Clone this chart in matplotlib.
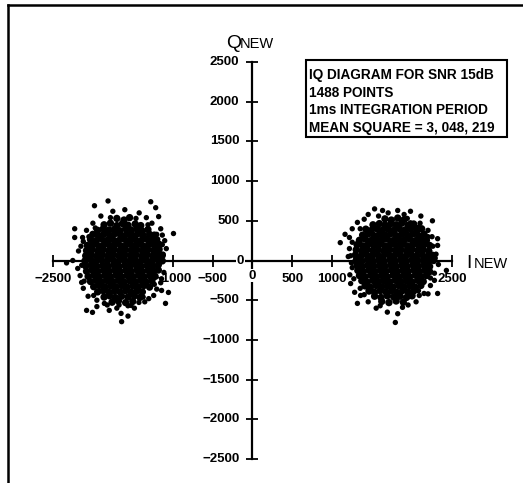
import matplotlib
matplotlib.use("Agg")
import matplotlib.pyplot as plt
from matplotlib.patches import Rectangle
from matplotlib.lines import Line2D

plt.rcParams['font.family'] = ['Liberation Sans', 'DejaVu Sans']

# ---------------- data ----------------
x_ticks = [-2500, -2000, -1500, -1000, -500, 500, 1000, 1500, 2000, 2500]
x_labels = [-2500, -1000, -500, 500, 1000, 2500]
y_ticks = [-2500, -2000, -1500, -1000, -500, 500, 1000, 1500, 2000, 2500]
y_labels = [2500, 2000, 1500, 1000, 500, -500, -1000, -1500, -2000, -2500]

info_lines = ["IQ DIAGRAM FOR SNR 15dB", "1488 POINTS",
              "1ms INTEGRATION PERIOD", "MEAN SQUARE = 3, 048, 219"]

left_core = [
    (-1700, 530), (-1610, 510), (-1540, 540),
    (-1860, 450), (-1780, 470), (-1700, 440), (-1630, 465), (-1560, 445), (-1470, 460), (-1400, 440),
    (-1940, 380), (-1870, 400), (-1800, 385), (-1730, 395), (-1660, 375), (-1590, 400), (-1520, 385),
    (-1450, 395), (-1380, 370), (-1310, 390),
    (-2000, 330), (-1930, 315), (-1860, 335), (-1790, 320), (-1720, 340), (-1650, 315), (-1580, 330),
    (-1510, 320), (-1440, 335), (-1370, 315), (-1290, 330), (-1230, 320),
    (-2030, 265), (-1960, 250), (-1890, 270), (-1820, 255), (-1750, 265), (-1680, 250), (-1610, 270),
    (-1540, 255), (-1470, 265), (-1400, 250), (-1330, 270), (-1260, 255), (-1200, 265),
    (-2070, 190), (-2000, 205), (-1930, 185), (-1860, 200), (-1790, 190), (-1720, 205), (-1650, 185),
    (-1580, 200), (-1510, 190), (-1440, 205), (-1370, 185), (-1300, 200), (-1230, 190), (-1170, 205),
    (-2080, 125), (-2010, 140), (-1940, 120), (-1870, 135), (-1800, 125), (-1730, 140), (-1660, 120),
    (-1590, 135), (-1520, 125), (-1450, 140), (-1380, 120), (-1310, 135), (-1240, 125), (-1170, 140),
    (-2090, 60), (-2020, 75), (-1950, 55), (-1880, 70), (-1810, 60), (-1740, 75), (-1670, 55),
    (-1600, 70), (-1530, 60), (-1460, 75), (-1390, 55), (-1320, 70), (-1250, 60), (-1180, 75), (-1130, 65),
    (-2100, -5), (-2030, 10), (-1960, -10), (-1890, 5), (-1820, -5), (-1750, 10), (-1680, -10),
    (-1610, 5), (-1540, -5), (-1470, 10), (-1400, -10), (-1330, 5), (-1260, -5), (-1190, 10), (-1130, -5),
    (-2090, -70), (-2020, -55), (-1950, -75), (-1880, -60), (-1810, -70), (-1740, -55), (-1670, -75),
    (-1600, -60), (-1530, -70), (-1460, -55), (-1390, -75), (-1320, -60), (-1250, -70), (-1180, -55),
    (-2080, -135), (-2010, -120), (-1940, -140), (-1870, -125), (-1800, -135), (-1730, -120), (-1660, -140),
    (-1590, -125), (-1520, -135), (-1450, -120), (-1380, -140), (-1310, -125), (-1240, -135), (-1180, -120),
    (-2060, -200), (-1990, -185), (-1920, -205), (-1850, -190), (-1780, -200), (-1710, -185), (-1640, -205),
    (-1570, -190), (-1500, -200), (-1430, -185), (-1360, -205), (-1290, -190), (-1220, -200),
    (-2030, -265), (-1960, -250), (-1890, -270), (-1820, -255), (-1750, -265), (-1680, -250), (-1610, -270),
    (-1540, -255), (-1470, -265), (-1400, -250), (-1330, -270), (-1260, -255),
    (-1990, -330), (-1920, -315), (-1850, -335), (-1780, -320), (-1710, -330), (-1640, -315), (-1570, -335),
    (-1500, -320), (-1430, -330), (-1360, -315), (-1290, -335),
    (-1940, -395), (-1870, -380), (-1800, -400), (-1730, -385), (-1660, -395), (-1590, -380), (-1520, -400),
    (-1450, -385), (-1380, -395),
    (-1860, -460), (-1790, -445), (-1720, -465), (-1640, -450), (-1560, -460), (-1480, -445), (-1410, -465),
    (-1760, -525), (-1680, -510), (-1590, -530), (-1500, -515),
]
left_fringe = [
    (-1810, 750), (-1980, 690), (-1275, 740), (-1213, 665), (-1176, 553), (-990, 340),
    (-2228, 400), (-2228, 290), (-2129, 290), (-2252, 0), (-2190, -100), (-2141, -276),
    (-2079, -628), (-2005, -653), (-1856, -540), (-1795, -628), (-1647, -666), (-1672, -560),
    (-1522, -565), (-1423, -528), (-1238, -440), (-1090, -540), (-1139, -377), (-1053, -402),
    (-2150, 180), (-2180, 120), (-2160, -190), (-2120, -350), (-2060, -450), (-1950, -500),
    (-1100, 250), (-1080, 150), (-1110, -150), (-1150, -280), (-1200, -360), (-1150, 400),
    (-1260, 470), (-1330, 540), (-1420, 600), (-1900, 560), (-2000, 470), (-2080, 380),
    (-1750, 620), (-1600, 640), (-1480, -600), (-1350, -520), (-1950, -580), (-1700, -600),
    (-1300, -480), (-2050, 300), (-1130, 320), (-1560, -700), (-1640, -770), (-2330, -30),
    (-2120, 240), (-2140, -60), (-2110, -260), (-1990, -440), (-1820, -560), (-1560, -570),
    (-1370, -460), (-1230, -300), (-1140, -230), (-1120, 80), (-1130, 200), (-1200, 330),
    (-1310, 450), (-1460, 530), (-1780, 540), (-1970, 410),
]

right_core = [
    (1660, 525), (1740, 510), (1820, 535), (1900, 515),
    (1510, 450), (1590, 465), (1660, 445), (1730, 460), (1800, 450), (1870, 470), (1950, 445), (2020, 460),
    (1420, 395), (1490, 380), (1560, 400), (1630, 385), (1700, 395), (1770, 380), (1840, 400), (1910, 385),
    (1980, 395), (2060, 380), (2120, 400),
    (1380, 320), (1450, 335), (1520, 315), (1590, 330), (1660, 320), (1730, 335), (1800, 315), (1870, 330),
    (1940, 320), (2010, 335), (2080, 315), (2150, 330),
    (1340, 255), (1410, 270), (1480, 250), (1550, 265), (1620, 255), (1690, 270), (1760, 250), (1830, 265),
    (1900, 255), (1970, 270), (2040, 250), (2110, 265), (2180, 255),
    (1310, 200), (1380, 185), (1450, 205), (1520, 190), (1590, 200), (1660, 185), (1730, 205), (1800, 190),
    (1870, 200), (1940, 185), (2010, 205), (2080, 190), (2150, 200), (2220, 190),
    (1300, 135), (1370, 120), (1440, 140), (1510, 125), (1580, 135), (1650, 120), (1720, 140), (1790, 125),
    (1860, 135), (1930, 120), (2000, 140), (2070, 125), (2140, 135), (2210, 120),
    (1290, 70), (1360, 55), (1430, 75), (1500, 60), (1570, 70), (1640, 55), (1710, 75), (1780, 60),
    (1850, 70), (1920, 55), (1990, 75), (2060, 60), (2130, 70), (2200, 55), (2260, 65),
    (1300, 5), (1370, -10), (1440, 10), (1510, -5), (1580, 5), (1650, -10), (1720, 10), (1790, -5),
    (1860, 5), (1930, -10), (2000, 10), (2070, -5), (2140, 5), (2210, -10), (2270, 0),
    (1310, -60), (1380, -75), (1450, -55), (1520, -70), (1590, -60), (1660, -75), (1730, -55), (1800, -70),
    (1870, -60), (1940, -75), (2010, -55), (2080, -70), (2150, -60), (2220, -75),
    (1320, -125), (1390, -140), (1460, -120), (1530, -135), (1600, -125), (1670, -140), (1740, -120),
    (1810, -135), (1880, -125), (1950, -140), (2020, -120), (2090, -135), (2160, -125), (2220, -140),
    (1340, -190), (1410, -205), (1480, -185), (1550, -200), (1620, -190), (1690, -205), (1760, -185),
    (1830, -200), (1900, -190), (1970, -205), (2040, -185), (2110, -200), (2180, -190),
    (1370, -255), (1440, -270), (1510, -250), (1580, -265), (1650, -255), (1720, -270), (1790, -250),
    (1860, -265), (1930, -255), (2000, -270), (2070, -250), (2140, -265),
    (1410, -320), (1480, -335), (1550, -315), (1620, -330), (1690, -320), (1760, -335), (1830, -315),
    (1900, -330), (1970, -320), (2040, -335), (2110, -315),
    (1460, -385), (1530, -400), (1600, -380), (1670, -395), (1740, -385), (1810, -400), (1880, -380),
    (1950, -395), (2020, -385),
    (1530, -450), (1610, -465), (1690, -445), (1770, -460), (1850, -450), (1930, -465), (2000, -445),
    (1620, -515), (1710, -530), (1800, -510), (1890, -525),
]
right_fringe = [
    (1630, 630), (1820, 630), (1530, 650), (1315, 480), (1250, 400), (1215, 290), (1100, 225),
    (1215, 150), (1230, 60), (1250, -90), (1230, -290), (1280, -400), (1355, -440), (1315, -540),
    (1690, -650), (1820, -670), (1790, -780), (1940, -465), (2090, -440), (2150, -415), (2230, -315),
    (2320, -415), (2280, -160), (2320, 190), (2320, 275), (2255, 500), (2040, 415), (1980, 475),
    (1940, 530), (1400, 520), (1450, 580), (1700, 600), (2100, 470), (2200, 380), (2250, 300),
    (2300, 80), (2330, -50), (2280, -250), (2200, -420), (1450, -520), (1550, -600), (1950, -560),
    (2050, -520), (1350, -350), (1220, -180), (1200, 50), (1160, 330), (2110, 560), (1980, 620),
    (2430, -125),
    (1250, 230), (1240, -30), (1270, -230), (1400, -430), (1600, -570), (1880, -590), (2080, -380),
    (2230, -220), (2290, 30), (2260, 180), (2200, 300), (2080, 420), (1900, 580), (1580, 560),
    (1350, 400),
]

# ---------------- figure ----------------
W, H = 523, 483
fig = plt.figure(figsize=(W / 100, H / 100), dpi=100)
ax = fig.add_axes([0, 0, 1, 1])
ax.set_xlim(-3164, 3390)
ax.set_ylim(-2802, 3281)

for s in ['top', 'right']:
    ax.spines[s].set_visible(False)
for s in ['left', 'bottom']:
    ax.spines[s].set_position(('data', 0))
    ax.spines[s].set_bounds(-2500, 2500)
    ax.spines[s].set_linewidth(1.6)
ax.set_xticks(x_ticks)
ax.set_yticks(y_ticks)
ax.set_xticklabels([])
ax.set_yticklabels([])
ax.tick_params(direction='inout', length=8.6, width=1.3, colors='black')

lab_kw = dict(fontsize=9.5, fontweight='bold', color='black')
for v in y_labels:
    ax.annotate(f"{v:d}".replace('-', '\u2212'), xy=(0, v), xytext=(-13, 0),
                textcoords='offset pixels', ha='right', va='center', **lab_kw)
for v in x_labels:
    ax.annotate(f"{v:d}".replace('-', '\u2212'), xy=(v, 0), xytext=(0, -18),
                textcoords='offset pixels', ha='center', va='center', **lab_kw)
ax.annotate("0", xy=(0, 0), xytext=(-12, 0), textcoords='offset pixels', ha='center', va='center',
            bbox=dict(facecolor='white', edgecolor='none', pad=0.5), zorder=5, **lab_kw)
ax.annotate("0", xy=(0, 0), xytext=(0, -15), textcoords='offset pixels', ha='center', va='center',
            bbox=dict(facecolor='white', edgecolor='none', pad=0.5), zorder=5, **lab_kw)

for pts, size in [(left_core, 28), (right_core, 28), (left_fringe, 15), (right_fringe, 15)]:
    ax.scatter([p[0] for p in pts], [p[1] for p in pts], s=size, c='black',
               edgecolors='none', zorder=4)

# axis titles
def fx(px):
    return px / W

def fy(py):
    return 1 - py / H

fig.text(fx(226), fy(48), "Q", fontsize=14, va='baseline', ha='left')
fig.text(fx(240), fy(48), "NEW", fontsize=10.5, va='baseline', ha='left')
fig.text(fx(466), fy(268), "I", fontsize=14, va='baseline', ha='left')
fig.text(fx(474), fy(268), "NEW", fontsize=10.5, va='baseline', ha='left')

# info box
fig.patches.append(Rectangle((fx(306), fy(137)), fx(507) - fx(306), fy(60) - fy(137),
                             transform=fig.transFigure, fill=False, lw=1.5, edgecolor='black'))
baselines = [79, 97, 114, 132]
for line, b in zip(info_lines, baselines):
    fig.text(fx(309), fy(b), line, fontsize=9.8, fontweight='bold', va='baseline', ha='left')

# page border (top and left)
fig.lines.append(Line2D([fx(8), 1.0], [fy(5), fy(5)], transform=fig.transFigure, lw=1.8, color='black'))
fig.lines.append(Line2D([fx(8), fx(8)], [fy(5), 0.0], transform=fig.transFigure, lw=1.8, color='black'))

fig.savefig("out.png", dpi=100)
